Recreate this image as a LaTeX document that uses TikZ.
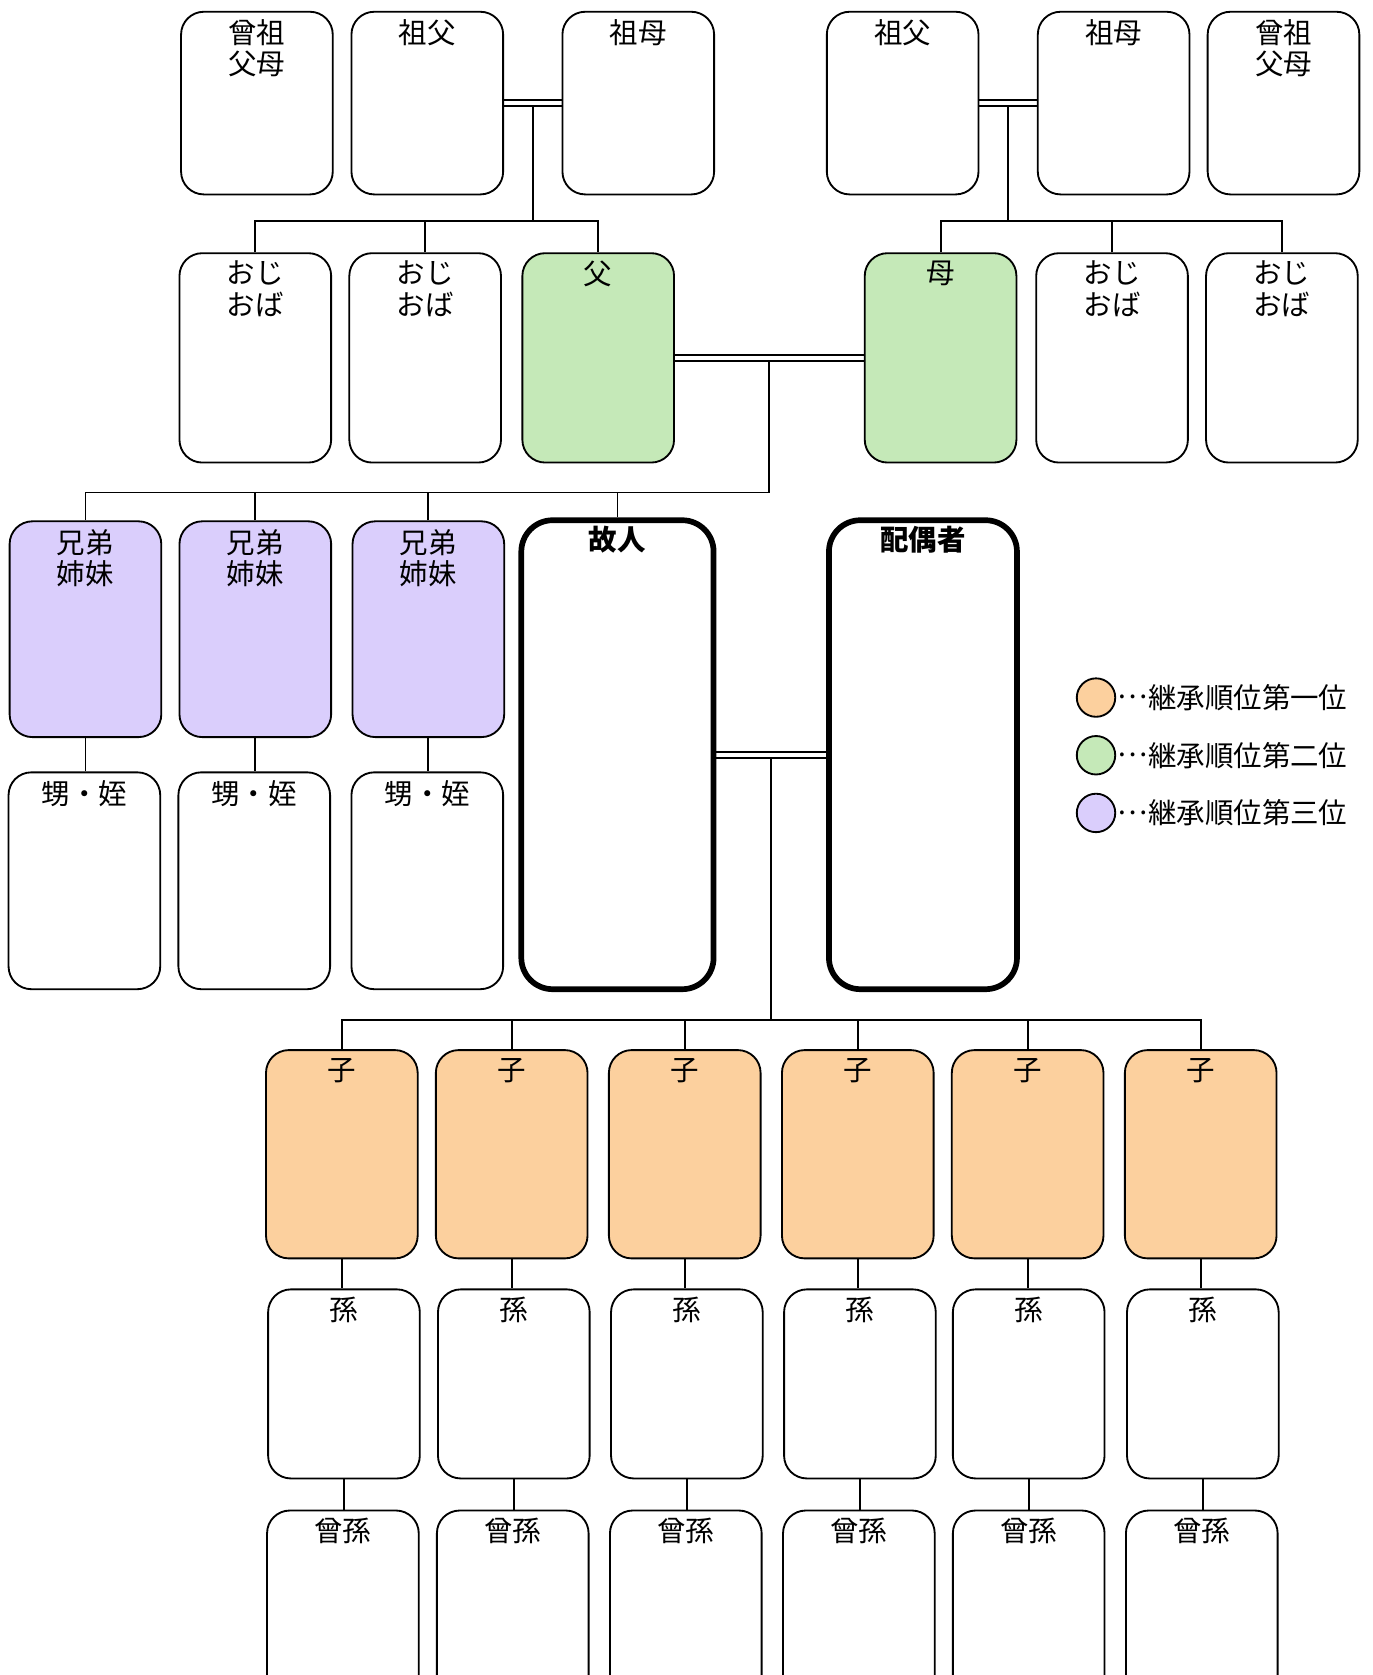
\documentclass[tikz,border=0pt]{standalone}
\usepackage{fontspec}
\setmainfont{Noto Sans CJK JP}
\usetikzlibrary{calc}
\definecolor{ordA}{HTML}{FCD09E}
\definecolor{ordB}{HTML}{C5E9B8}
\definecolor{ordC}{HTML}{DACEFC}
\pgfdeclarelayer{bg}
\pgfsetlayers{bg,main}
\newcommand{\middots}{\raisebox{0.34em}{…}}
\begin{document}
\begin{tikzpicture}[x=0.75pt,y=-0.75pt,
  box/.style={draw, line width=1.3pt, rounded corners=16pt, minimum width=106.5pt, inner sep=0pt, fill=white},
  bigbox/.style={draw, line width=4pt, rounded corners=22pt, inner sep=0pt, fill=white},
  lbl/.style={anchor=north, inner sep=0pt, yshift=-6pt, align=center, font=\fontsize{20}{22}\selectfont},
  blbl/.style={lbl, font=\fontsize{20}{22}\selectfont\bfseries},
  conn/.style={line width=1.3pt},
  marr/.style={line width=1.3pt, double, double distance=2.8pt},
  dot/.style={draw, circle, line width=1.3pt, minimum size=27pt, inner sep=0pt},
  legtxt/.style={anchor=west, inner sep=1pt, font=\fontsize{20}{22}\selectfont},
]
\useasboundingbox (0,0) rectangle (1285,1568);
\clip (0,0) rectangle (1285,1568);
% row 1
\node[box, minimum height=128.25pt, label={[lbl]north:曾祖\\父母}] (ggpL) at (240.5,96.5) {};
\node[box, minimum height=128.25pt, label={[lbl]north:祖父}] (gfL) at (400,96.5) {};
\node[box, minimum height=128.25pt, label={[lbl]north:祖母}] (gmL) at (597.5,96.5) {};
\node[box, minimum height=128.25pt, label={[lbl]north:祖父}] (gfR) at (845,96.5) {};
\node[box, minimum height=128.25pt, label={[lbl]north:祖母}] (gmR) at (1042.5,96.5) {};
\node[box, minimum height=128.25pt, label={[lbl]north:曾祖\\父母}] (ggpR) at (1201.5,96.5) {};
% row 2
\node[box, minimum height=147pt, label={[lbl]north:おじ\\おば}] (uL1) at (239,335) {};
\node[box, minimum height=147pt, label={[lbl]north:おじ\\おば}] (uL2) at (398,335) {};
\node[box, minimum height=147pt, fill=ordB, label={[lbl]north:父}] (fa) at (560,335) {};
\node[box, minimum height=147pt, fill=ordB, label={[lbl]north:母}] (mo) at (880.5,335) {};
\node[box, minimum height=147pt, label={[lbl]north:おじ\\おば}] (uR1) at (1041,335) {};
\node[box, minimum height=147pt, label={[lbl]north:おじ\\おば}] (uR2) at (1200,335) {};
% row 3
\node[box, minimum height=151.5pt, fill=ordC, label={[lbl]north:兄弟\\姉妹}] (sib1) at (80,589) {};
\node[box, minimum height=151.5pt, fill=ordC, label={[lbl]north:兄弟\\姉妹}] (sib2) at (239,589) {};
\node[box, minimum height=151.5pt, fill=ordC, label={[lbl]north:兄弟\\姉妹}] (sib3) at (401,589) {};
\node[bigbox, minimum width=135pt, minimum height=329.25pt, label={[blbl]north:故人}] (dec) at (578,706.5) {};
\node[bigbox, minimum width=132pt, minimum height=329.25pt, label={[blbl]north:配偶者}] (sp) at (864,706.5) {};
\node[box, minimum height=152.25pt, label={[lbl]north:甥・姪}] (nep1) at (79,824.5) {};
\node[box, minimum height=152.25pt, label={[lbl]north:甥・姪}] (nep2) at (238,824.5) {};
\node[box, minimum height=152.25pt, label={[lbl]north:甥・姪}] (nep3) at (400,824.5) {};
% children
\foreach \i/\x in {1/320,2/479,3/641,4/803,5/962,6/1124}{
  \node[box, minimum height=146.25pt, fill=ordA, label={[lbl]north:子}] (ko\i) at (\x,1080.5) {};
}
\foreach \i/\x in {1/322,2/481,3/643,4/805,5/963,6/1126}{
  \node[box, minimum height=132.75pt, label={[lbl]north:孫}] (mg\i) at (\x,1295.5) {};
}
\foreach \i/\x in {1/321,2/480,3/642,4/804,5/963,6/1125}{
  \node[box, minimum height=150pt, label={[lbl]north:曾孫}] (hm\i) at (\x,1514) {};
}
% legend
\node[dot, fill=ordA] (lg1) at (1026,653) {};
\node[dot, fill=ordB] (lg2) at (1026,707) {};
\node[dot, fill=ordC] (lg3) at (1026,761) {};
\node[legtxt] (lt1) at (lg1.east) {\middots 継承順位第一位};
\node[legtxt] (lt2) at (lg2.east) {\middots 継承順位第二位};
\node[legtxt] (lt3) at (lg3.east) {\middots 継承順位第三位};
% connectors
\coordinate (yA) at (0,207);
\coordinate (yB) at (0,461);
\coordinate (yC) at (0,955);
\begin{pgfonlayer}{bg}
\coordinate (mL) at ($(gfL.east)!0.5!(gmL.west)$);
\coordinate (mR) at ($(gfR.east)!0.5!(gmR.west)$);
\coordinate (mP) at ($(fa.east)!0.5!(mo.west)$);
\coordinate (mS) at ($(dec.east)!0.5!(sp.west)$);
\draw[conn] (mL) -- (mL |- yA);
\draw[conn] (uL1.north) -- (uL1.north |- yA) -- (fa.north |- yA) -- (fa.north);
\draw[conn] (uL2.north) -- (uL2.north |- yA);
\draw[conn] (mR) -- (mR |- yA);
\draw[conn] (mo.north) -- (mo.north |- yA) -- (uR2.north |- yA) -- (uR2.north);
\draw[conn] (uR1.north) -- (uR1.north |- yA);
\draw[conn] (mP) -- (mP |- yB) -- (sib1.north |- yB) -- (sib1.north);
\draw[conn] (sib2.north) -- (sib2.north |- yB);
\draw[conn] (sib3.north) -- (sib3.north |- yB);
\draw[conn] (dec.north) -- (dec.north |- yB);
\draw[conn] (sib1.south) -- (sib1.south |- nep1.north);
\draw[conn] (sib2.south) -- (sib2.south |- nep2.north);
\draw[conn] (sib3.south) -- (sib3.south |- nep3.north);
\draw[conn] (mS) -- (mS |- yC);
\draw[conn] (ko1.north) -- (ko1.north |- yC) -- (ko6.north |- yC) -- (ko6.north);
\foreach \i in {2,3,4,5}{ \draw[conn] (ko\i.north) -- (ko\i.north |- yC); }
\foreach \i in {1,...,6}{
  \draw[conn] (ko\i.south) -- (ko\i.south |- mg\i.north);
  \draw[conn] (mg\i.south) -- (mg\i.south |- hm\i.north);
}
\draw[marr] (gfL.east) -- (gmL.west);
\draw[marr] (gfR.east) -- (gmR.west);
\draw[marr] (fa.east) -- (mo.west);
\draw[marr] (dec.east) -- (sp.west);
\end{pgfonlayer}
\end{tikzpicture}
\end{document}
